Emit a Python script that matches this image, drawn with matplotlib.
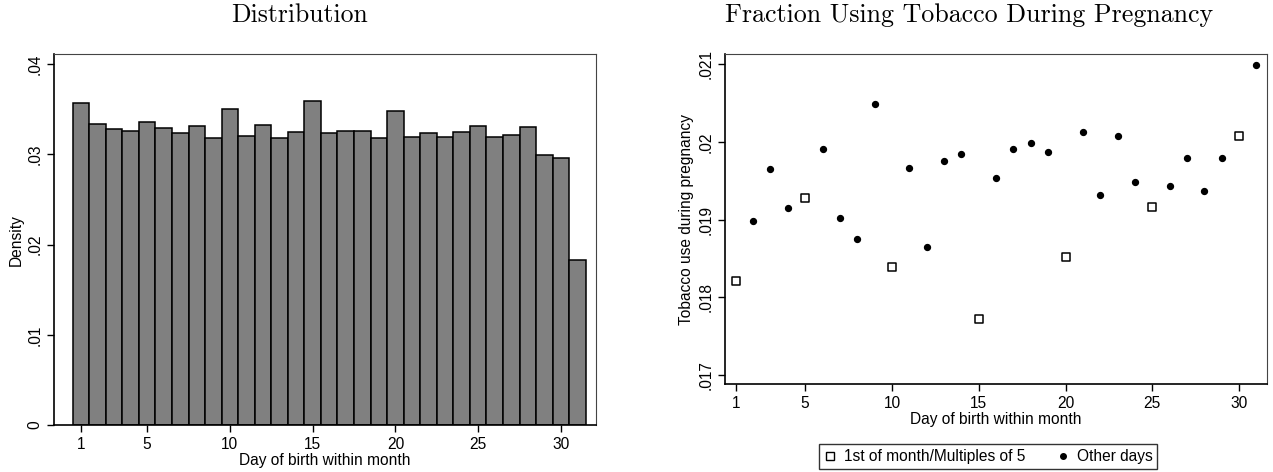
import matplotlib
matplotlib.use("Agg")
import matplotlib.pyplot as plt
from matplotlib.lines import Line2D

plt.rcParams['font.family'] = ['Liberation Sans', 'DejaVu Sans']

# histogram: density by day of birth
days = list(range(1, 32))
density = [0.03567, 0.03338, 0.03283, 0.03257, 0.03360, 0.03298, 0.03242, 0.03312,
           0.03183, 0.03508, 0.03205, 0.03331, 0.03187, 0.03253, 0.03593, 0.03242,
           0.03264, 0.03260, 0.03179, 0.03482, 0.03190, 0.03242, 0.03198, 0.03250,
           0.03320, 0.03190, 0.03220, 0.03305, 0.02994, 0.02965, 0.01830]

# fraction using tobacco, by day
tobacco = [0.018206, 0.018983, 0.019648, 0.019150, 0.019279, 0.019914, 0.019021, 0.018755,
           0.020489, 0.018391, 0.019661, 0.018644, 0.019760, 0.019841, 0.017725, 0.019536,
           0.019906, 0.019987, 0.019867, 0.018515, 0.020124, 0.019318, 0.020082, 0.019485,
           0.019159, 0.019438, 0.019790, 0.019369, 0.019790, 0.020082, 0.020991]

hist_yticks = [0, 0.01, 0.02, 0.03, 0.04]
hist_ylabels = ['0', '.01', '.02', '.03', '.04']
tob_yticks = [0.017, 0.018, 0.019, 0.020, 0.021]
tob_ylabels = ['.017', '.018', '.019', '.02', '.021']
xticks = [1, 5, 10, 15, 20, 25, 30]

W, H = 1273, 472
FS = 11.2
fig = plt.figure(figsize=(W / 100, H / 100), dpi=100)


def box(x0, y0, x1, y1):
    return [x0 / W, 1 - y1 / H, (x1 - x0) / W, (y1 - y0) / H]


def style(ax):
    for s in ['left', 'bottom']:
        ax.spines[s].set_linewidth(1.2)
        ax.spines[s].set_color('black')
    for s in ['top', 'right']:
        ax.spines[s].set_linewidth(0.8)
        ax.spines[s].set_color('#444444')
    ax.tick_params(direction='out', length=5, width=1, labelsize=FS, color='black')
    ax.tick_params(axis='y', labelrotation=90)
    for lab in ax.get_yticklabels():
        lab.set_va('center')


# ---- left: histogram ----
ax1 = fig.add_axes(box(54.3, 54.3, 596, 425))
ax1.bar(days, density, width=1.0, color='#808080', edgecolor='black', linewidth=1.1)
ax1.set_xlim(-0.61, 32.12)
ax1.set_ylim(0, 0.04111)
ax1.set_xticks(xticks)
ax1.set_yticks(hist_yticks, hist_ylabels)
ax1.set_xlabel('Day of birth within month', fontsize=FS, labelpad=1)
ax1.set_ylabel('Density', fontsize=FS, labelpad=3)
style(ax1)

# ---- right: scatter ----
ax2 = fig.add_axes(box(725.3, 54.3, 1266.7, 384.3))
special = [d for d in days if d == 1 or d % 5 == 0]
other = [d for d in days if not (d == 1 or d % 5 == 0)]
ax2.scatter(special, [tobacco[d - 1] for d in special], marker='s', s=36,
            facecolors='white', edgecolors='black', linewidths=1.1, zorder=3)
ax2.scatter(other, [tobacco[d - 1] for d in other], marker='o', s=18,
            color='black', zorder=3)
ax2.set_xlim(0.40, 31.59)
ax2.set_ylim(0.01688, 0.021129)
ax2.set_xticks(xticks)
ax2.set_yticks(tob_yticks, tob_ylabels)
ax2.set_xlabel('Day of birth within month', fontsize=FS, labelpad=1)
ax2.set_ylabel('Tobacco use during pregnancy', fontsize=FS, labelpad=3)
style(ax2)

handles = [
    Line2D([], [], ls='none', marker='s', markersize=5.5, markerfacecolor='white',
           markeredgecolor='black', markeredgewidth=1.0),
    Line2D([], [], ls='none', marker='o', markersize=4, color='black'),
]
leg = fig.legend(handles, ['1st of month/Multiples of 5', 'Other days'],
                 loc='center', bbox_to_anchor=(988 / W, 1 - 456.5 / H), ncol=2,
                 fontsize=FS, frameon=True, fancybox=False, handlelength=0.8,
                 handletextpad=0.5, columnspacing=2.0, borderpad=0.3,
                 borderaxespad=0)
leg.get_frame().set_edgecolor('black')
leg.get_frame().set_linewidth(1.0)

# titles in a LaTeX-like serif
fig.text(299.5 / W, 1 - 15 / H, 'Distribution', ha='center', va='center',
         fontsize=18.5, family='cmr10')
fig.text(969 / W, 1 - 15 / H, 'Fraction Using Tobacco During Pregnancy',
         ha='center', va='center', fontsize=18.7, family='cmr10')

fig.savefig('out.png', dpi=100)
